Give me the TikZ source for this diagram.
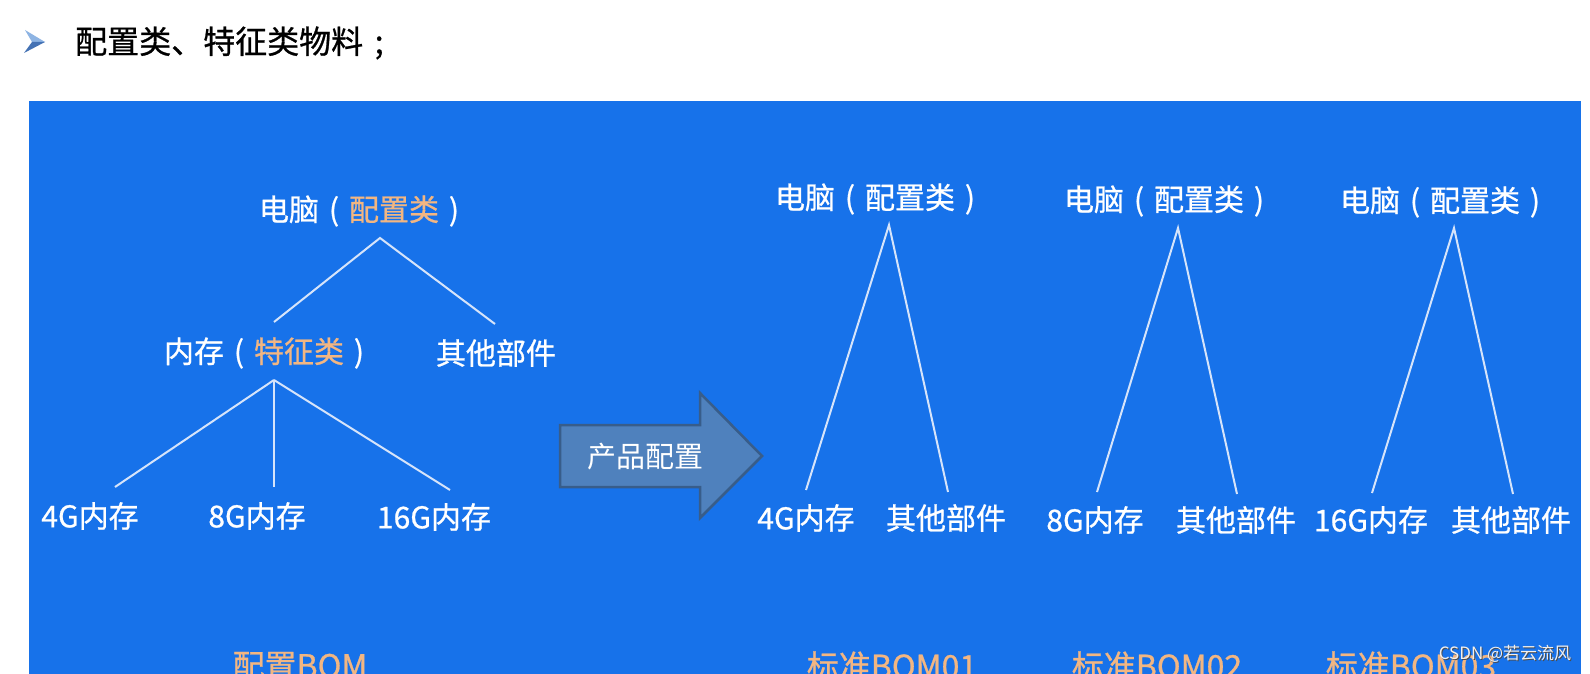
\documentclass[tikz,border=0pt]{standalone}
\usepackage{fontspec}
\newfontfamily\cjk{Noto Sans CJK SC}
\newfontfamily\cjkb[FakeBold=0.8]{Noto Sans CJK SC}
\definecolor{bgblue}{RGB}{23,114,234}
\definecolor{peach}{RGB}{242,182,130}
\definecolor{linec}{RGB}{214,228,250}
\definecolor{arrowfill}{RGB}{79,129,189}
\definecolor{arrowedge}{RGB}{56,93,138}
\definecolor{bulletlight}{RGB}{142,180,227}
\definecolor{bulletdark}{RGB}{68,114,180}
\newcommand\myLP{\makebox[1em][c]{(}}
\newcommand\myRP{\makebox[1em][c]{)}}
\tikzset{
  lbl/.style={inner sep=0pt, text=white, font=\cjkb\fontsize{30}{30}\selectfont},
  bomlbl/.style={inner sep=0pt, text=peach, font=\cjkb\fontsize{32}{32}\selectfont},
  treeline/.style={draw=linec, line width=2pt},
}
\begin{document}
\begin{tikzpicture}[x=1pt,y=-1pt]
\useasboundingbox (0,0) rectangle (1590,674);
\clip (0,0) rectangle (1590,674);
\fill[white] (0,0) rectangle (1590,674);
% bullet
\fill[bulletlight] (25,30) -- (45,42) -- (32,42) -- cycle;
\fill[bulletdark] (24,53) -- (45,42) -- (32,42) -- cycle;
\node[anchor=west, inner sep=0pt, font=\cjkb\fontsize{32}{32}\selectfont] (title) at (75,43) {配置类、特征类物料\makebox[1em][c]{;}};
% blue panel
\fill[bgblue] (29,101) rectangle (1581,680);
% left tree
\node[lbl] (t0) at (364,211) {电脑\myLP\textcolor{peach}{配置类}\myRP};
\coordinate (a0) at (380,238);
\coordinate (e01) at (274,322);
\coordinate (e02) at (495,324);
\node[lbl] (t1) at (269,353) {内存\myLP\textcolor{peach}{特征类}\myRP};
\node[lbl] (t2) at (496,353) {其他部件};
\coordinate (a1) at (274,380);
\coordinate (e11) at (115,487);
\coordinate (e12) at (274,487);
\coordinate (e13) at (450,490);
\node[lbl] (l1) at (90,516) {4G内存};
\node[lbl] (l2) at (257,516) {8G内存};
\node[lbl] (l3) at (434,517) {16G内存};
\draw[treeline] (e01) -- (a0) -- (e02);
\draw[treeline] (a1) -- (e11);
\draw[treeline] (a1) -- (e12);
\draw[treeline] (a1) -- (e13);
\node[bomlbl] (b0) at (300,666) {配置BOM};
% arrow
\draw[fill=arrowfill, draw=arrowedge, line width=2.5pt, line join=miter]
  (560,425) -- (700,425) -- (700,393) -- (762,456) -- (700,518) -- (700,487) -- (560,487) -- cycle;
\node[inner sep=0pt, text=white, font=\cjk\fontsize{29}{29}\selectfont] (arr) at (645,457) {产品配置};
% right tree 1
\node[lbl] (r1t) at (880,199) {电脑\myLP 配置类\myRP};
\coordinate (r1a) at (889,225);
\coordinate (r1e1) at (806,490);
\coordinate (r1e2) at (948,492);
\draw[treeline] (r1e1) -- (r1a) -- (r1e2);
\node[lbl] (r1l) at (806,518) {4G内存};
\node[lbl] (r1r) at (946,518) {其他部件};
\node[bomlbl] (r1b) at (892,666) {标准BOM01};
% right tree 2
\node[lbl] (r2t) at (1169,201) {电脑\myLP 配置类\myRP};
\coordinate (r2a) at (1178,228);
\coordinate (r2e1) at (1097,492);
\coordinate (r2e2) at (1237,494);
\draw[treeline] (r2e1) -- (r2a) -- (r2e2);
\node[lbl] (r2l) at (1095,520) {8G内存};
\node[lbl] (r2r) at (1236,520) {其他部件};
\node[bomlbl] (r2b) at (1157,666) {标准BOM02};
% right tree 3
\node[lbl] (r3t) at (1445,202) {电脑\myLP 配置类\myRP};
\coordinate (r3a) at (1454,228);
\coordinate (r3e1) at (1372,493);
\coordinate (r3e2) at (1513,494);
\draw[treeline] (r3e1) -- (r3a) -- (r3e2);
\node[lbl] (r3l) at (1371,520) {16G内存};
\node[lbl] (r3r) at (1511,520) {其他部件};
\node[bomlbl] (r3b) at (1411,666) {标准BOM03};
% watermark
\node[inner sep=0pt, text=black!70, font=\cjk\fontsize{17}{17}\selectfont] (wms) at (1506,655) {CSDN @若云流风};
\node[inner sep=0pt, text=white!88!gray, font=\cjk\fontsize{17}{17}\selectfont] (wm) at (1505,654) {CSDN @若云流风};
\end{tikzpicture}
\end{document}
